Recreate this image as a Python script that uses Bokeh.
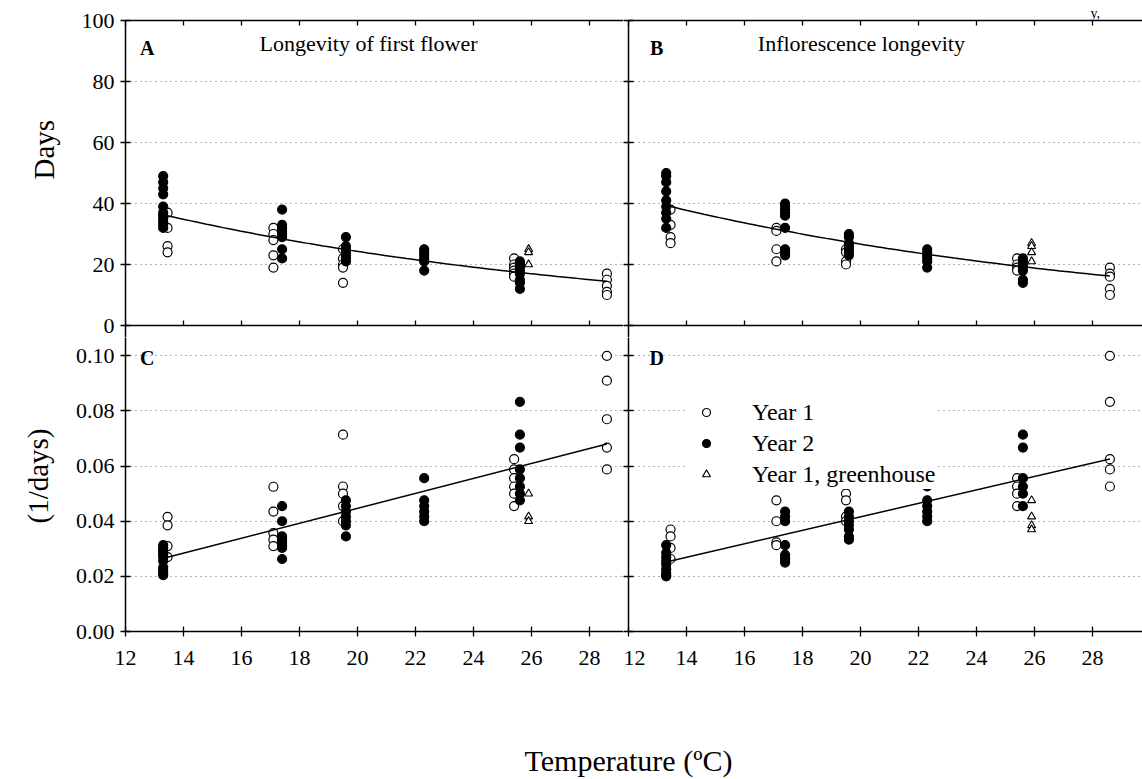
import numpy as np
from bokeh.plotting import figure
from bokeh.models import (FixedTicker, LinearAxis, Range1d, Label, Legend,
                          LegendItem, PrintfTickFormatter, Title)
from bokeh.layouts import column, row
from bokeh.embed import file_html
from bokeh.resources import INLINE

FONT = "Liberation Serif"

# ---------------- data ----------------
x_ticks = [12, 14, 16, 18, 20, 22, 24, 26, 28]
days_ticks = [0, 20, 40, 60, 80, 100]
rate_ticks = [0.0, 0.02, 0.04, 0.06, 0.08, 0.10]

year1_temps = [13.45, 17.1, 19.5, 25.4, 28.6]
year2_temps = [13.3, 17.4, 19.6, 22.3, 25.6]
gh_temps = [25.9]

# Panel A: longevity of first flower (days)
A_year1 = [[37, 32, 26, 24], [32, 30, 28, 23, 19], [25, 22, 20, 19, 14],
           [22, 20, 19, 18, 17, 16], [17, 15, 13, 11, 10]]
A_year2 = [[49, 47, 45, 43, 39, 37, 36, 35, 34, 33, 32],
           [38, 33, 32, 31, 30, 29, 25, 22],
           [29, 26, 25, 24, 23, 22, 21],
           [25, 24, 23, 22, 21, 18],
           [21, 20, 19, 18, 17, 15, 14, 12]]
A_gh = [[25, 24, 20]]

# Panel B: inflorescence longevity (days)
B_year1 = [[38, 33, 29, 27], [32, 31, 25, 21], [25, 24, 21, 20],
           [22, 20, 19, 18], [19, 17, 16, 12, 10]]
B_year2 = [[50, 49, 47, 44, 41, 39, 37, 35, 32],
           [40, 39, 38, 37, 36, 32, 25, 24, 23],
           [30, 29, 27, 26, 25, 24, 23],
           [25, 24, 23, 22, 21, 19],
           [22, 21, 20, 19, 18, 15, 14]]
B_gh = [[27, 26, 24, 21]]

# Panel C: first flower rate (1/days)
C_year1 = [[0.0416, 0.0385, 0.031, 0.027],
           [0.0525, 0.0435, 0.0357, 0.0333, 0.031],
           [0.0714, 0.0526, 0.050, 0.0455, 0.040],
           [0.0625, 0.0588, 0.0556, 0.0526, 0.050, 0.0455],
           [0.100, 0.091, 0.077, 0.0667, 0.0588]]
C_year2 = [[0.0313, 0.0303, 0.0294, 0.0286, 0.0278, 0.027, 0.0256, 0.0233, 0.0222, 0.0213, 0.0204],
           [0.0455, 0.040, 0.0345, 0.0333, 0.0323, 0.0313, 0.0303, 0.0263],
           [0.0476, 0.0455, 0.0435, 0.0417, 0.040, 0.0385, 0.0345],
           [0.0556, 0.0476, 0.0455, 0.0435, 0.0417, 0.040],
           [0.0833, 0.0714, 0.0667, 0.0588, 0.0556, 0.0526, 0.050, 0.0476]]
C_gh = [[0.050, 0.0417, 0.040]]

# Panel D: inflorescence rate (1/days)
D_year1 = [[0.037, 0.0345, 0.0303, 0.0263],
           [0.0476, 0.040, 0.0323, 0.0313],
           [0.050, 0.0476, 0.0417, 0.040],
           [0.0556, 0.0526, 0.050, 0.0455],
           [0.100, 0.0833, 0.0625, 0.0588, 0.0526]]
D_year2 = [[0.0313, 0.0286, 0.027, 0.0256, 0.0244, 0.0227, 0.0213, 0.0204, 0.020],
           [0.0435, 0.0417, 0.040, 0.0313, 0.0278, 0.027, 0.0263, 0.0256, 0.025],
           [0.0435, 0.0417, 0.040, 0.0385, 0.037, 0.0345, 0.0333],
           [0.0526, 0.0476, 0.0455, 0.0435, 0.0417, 0.040],
           [0.0714, 0.0667, 0.0556, 0.0526, 0.050, 0.0455]]
D_gh = [[0.0476, 0.0417, 0.0385, 0.037]]

# fitted regressions
fit_T = [13.45, 28.6]
A_fit_a, A_fit_k = 80.7, 0.0600      # days = a * exp(-k T)
B_fit_a, B_fit_k = 85.1, 0.0580
C_fit_b0, C_fit_b1 = -0.00959, 0.002713  # rate = b0 + b1 T
D_fit_b0, D_fit_b1 = -0.00725, 0.002442


def flatten(temps, groups):
    xs, ys = [], []
    for t, vals in zip(temps, groups):
        for v in vals:
            xs.append(t)
            ys.append(v)
    return xs, ys


# ---------------- layout constants (pixels) ----------------
PX_PER_DEG = 29.0
LEFT_BORDER = 125          # left axis of panels A/C
DIVIDER = 628              # shared axis between left and right panels
DIV_TICK = 5               # room for the outward ticks of the divider axis
WIN_W = 1142
TOP_Y = 20                 # y of "100"
MID_Y = 325                # shared line (0 days)
BOT_Y = 631                # "0.00"
OVERLAP = 12               # the top canvases extend below the shared line
STRIP_H = 40
WIN_H = 779
DAYS_PX = (MID_Y - TOP_Y) / 100.0
RATE_PX = (BOT_Y - MID_Y) / 0.111

LEFT_W = DIVIDER - DIV_TICK
RIGHT_W = WIN_W - LEFT_W
TOP_H = MID_Y + OVERLAP
BOT_H = WIN_H - STRIP_H - TOP_H
BOT_BORDER = WIN_H - STRIP_H - BOT_Y


def style_axis(ax, ticks, tin, tout, show_labels, fmt=None, standoff=6):
    ax.ticker = FixedTicker(ticks=ticks)
    ax.axis_line_color = "black"
    ax.axis_line_width = 1.5
    ax.major_tick_line_color = "black"
    ax.major_tick_line_width = 1.3
    ax.major_tick_in = tin
    ax.major_tick_out = tout
    ax.minor_tick_line_color = None
    if fmt is not None:
        ax.formatter = fmt
    if show_labels:
        ax.major_label_text_font = FONT
        ax.major_label_text_font_size = "22px"
        ax.major_label_text_color = "black"
        ax.major_label_standoff = standoff
    else:
        ax.major_label_text_font_size = "0px"
        ax.major_label_standoff = 0


def panel(w, h, bl, bt, bb, y_start, y_end, y_ticks, is_left, is_top):
    frame_w = w - bl
    x_end = 12 + frame_w / PX_PER_DEG
    p = figure(width=w, height=h, x_range=Range1d(12, x_end),
               y_range=Range1d(y_start, y_end), output_backend="svg",
               toolbar_location=None, min_border_left=bl, min_border_right=0,
               min_border_top=bt, min_border_bottom=bb,
               outline_line_color=None, background_fill_color="white",
               border_fill_color="white")
    p.xgrid.visible = False
    p.ygrid.ticker = FixedTicker(ticks=y_ticks)
    p.ygrid.grid_line_color = "#666666"
    p.ygrid.grid_line_width = 1
    p.ygrid.grid_line_dash = "1 4"
    fmt_y = PrintfTickFormatter(format="%d") if is_top else PrintfTickFormatter(format="%.2f")
    style_axis(p.yaxis[0], y_ticks, 5, 5, is_left, fmt_y, standoff=6)
    if is_top:
        style_axis(p.xaxis[0], x_ticks, 5, 0, False)
        p.xaxis[0].fixed_location = 0
        top = LinearAxis()
        style_axis(top, x_ticks, 5, 0, False)
        p.add_layout(top, "above")
    else:
        style_axis(p.xaxis[0], x_ticks, 5, 5, True, standoff=14)
    return p


def add_points(p, y1, y2, gh):
    x, y = flatten(year1_temps, y1)
    r1 = p.scatter(x, y, marker="circle", size=9, fill_color="white",
                   line_color="black", line_width=1.2)
    x, y = flatten(year2_temps, y2)
    r2 = p.scatter(x, y, marker="circle", size=9, fill_color="black",
                   line_color="black", line_width=1.2)
    x, y = flatten(gh_temps, gh)
    r3 = p.scatter(x, y, marker="triangle", size=8, fill_color="white",
                   line_color="black", line_width=1.1)
    return r1, r2, r3


def text_label(p, txt, x, y, size, bold=False):
    p.add_layout(Label(x=x, y=y, text=txt, text_font=FONT, text_font_size=size,
                       text_font_style="bold" if bold else "normal",
                       text_align="center", text_baseline="middle",
                       text_color="black"))


def side_title(p, txt, offset):
    # vertical title left of the axis; "left" alignment = bottom end of the frame
    p.add_layout(Title(text=txt, align="left", offset=offset, standoff=37,
                       text_font=FONT, text_font_size="29px",
                       text_font_style="normal", text_color="black"), "left")


days_low = -OVERLAP / DAYS_PX
rate_high = (BOT_Y - TOP_H) / RATE_PX

pA = panel(LEFT_W, TOP_H, LEFT_BORDER, TOP_Y, 0, days_low, 100, days_ticks, True, True)
pB = panel(RIGHT_W, TOP_H, DIV_TICK, TOP_Y, 0, days_low, 100, days_ticks, False, True)
pC = panel(LEFT_W, BOT_H, LEFT_BORDER, 0, BOT_BORDER, 0, rate_high, rate_ticks, True, False)
pD = panel(RIGHT_W, BOT_H, DIV_TICK, 0, BOT_BORDER, 0, rate_high, rate_ticks, False, False)

add_points(pA, A_year1, A_year2, A_gh)
add_points(pB, B_year1, B_year2, B_gh)
add_points(pC, C_year1, C_year2, C_gh)
rD1, rD2, rD3 = add_points(pD, D_year1, D_year2, D_gh)

T = np.linspace(fit_T[0], fit_T[1], 80)
pA.line(T, A_fit_a * np.exp(-A_fit_k * T), line_color="black", line_width=1.5)
pB.line(T, B_fit_a * np.exp(-B_fit_k * T), line_color="black", line_width=1.5)
Tl = np.array(fit_T)
pC.line(Tl, C_fit_b0 + C_fit_b1 * Tl, line_color="black", line_width=1.5)
pD.line(Tl, D_fit_b0 + D_fit_b1 * Tl, line_color="black", line_width=1.5)

# panel letters and titles
text_label(pA, "A", 12.75, 91, "20px", bold=True)
text_label(pB, "B", 12.97, 91, "20px", bold=True)
text_label(pC, "C", 12.75, 0.0993, "20px", bold=True)
text_label(pD, "D", 12.97, 0.0993, "20px", bold=True)
text_label(pA, "Longevity of first flower", 20.38, 92.5, "22px")
text_label(pB, "Inflorescence longevity", 20.03, 92.5, "22px")

# y-axis titles
side_title(pA, "Days", 158)
side_title(pC, "(1/days)", 108)

# cropped running head at the top right of the page
pB.add_layout(Title(text="y,", align="left", offset=462, standoff=0,
                    text_font=FONT, text_font_size="14px",
                    text_font_style="normal", text_color="black"), "above")

legend = Legend(items=[LegendItem(label="Year 1", renderers=[rD1]),
                       LegendItem(label="Year 2", renderers=[rD2]),
                       LegendItem(label="Year 1, greenhouse", renderers=[rD3])],
                location=(58, 142))
legend.label_text_font = FONT
legend.label_text_font_size = "24px"
legend.label_text_color = "black"
legend.glyph_width = 40
legend.glyph_height = 20
legend.label_height = 30
legend.label_standoff = 26
legend.padding = 25
legend.spacing = 1
legend.margin = 0
legend.border_line_color = None
legend.background_fill_color = "white"
legend.background_fill_alpha = 1.0
pD.add_layout(legend)

strip = figure(width=WIN_W, height=STRIP_H, x_range=Range1d(0, WIN_W),
               y_range=Range1d(0, STRIP_H), output_backend="svg",
               toolbar_location=None, min_border=0, outline_line_color=None)
strip.axis.visible = False
strip.grid.visible = False
strip.add_layout(Label(x=DIVIDER, y=19, text="Temperature (ºC)", text_font=FONT,
                       text_font_size="30px", text_align="center",
                       text_baseline="middle", text_color="black"))

layout = column(row(pA, pB), row(pC, pD), strip)
open("out.html", "w").write(file_html(layout, INLINE))
